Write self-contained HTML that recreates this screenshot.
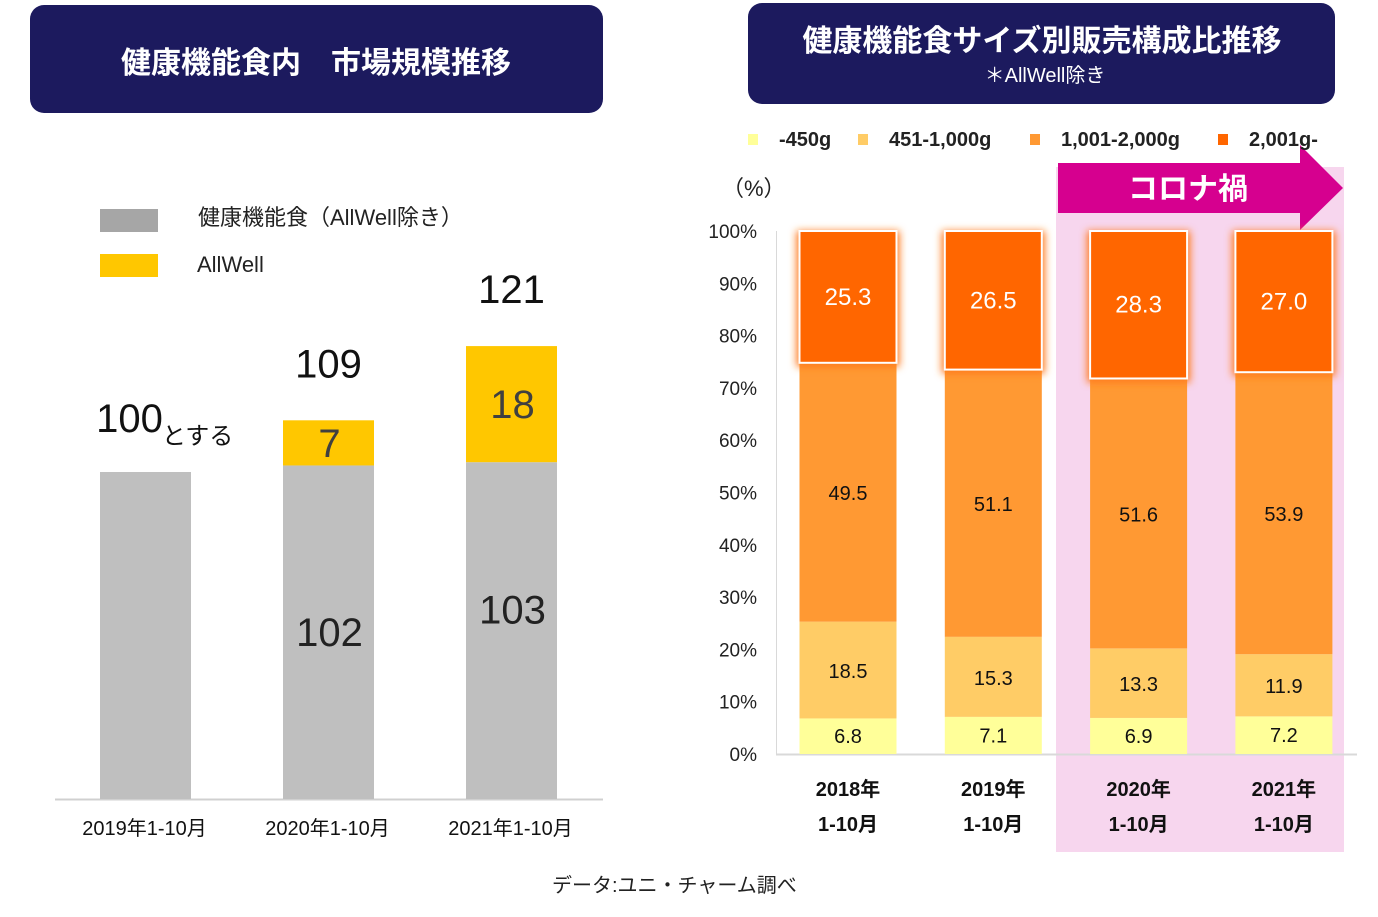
<!DOCTYPE html>
<html><head><meta charset="utf-8">
<style>
body{margin:0;width:1378px;height:912px;background:#fff;overflow:hidden;font-family:"Liberation Sans","Noto Sans CJK JP",sans-serif;}
svg text{font-family:"Liberation Sans","Noto Sans CJK JP",sans-serif;}
</style></head><body>
<svg id="s" width="1378" height="912" xmlns="http://www.w3.org/2000/svg">
<defs><filter id="glow" x="-20%" y="-20%" width="140%" height="140%"><feGaussianBlur stdDeviation="4"/></filter></defs>
<rect x="30" y="5" width="573" height="108" rx="14" fill="#1c1a5e"/>
<text x="316" y="73" text-anchor="middle" fill="#fff" font-size="30" font-weight="bold">健康機能食内　市場規模推移</text>
<rect x="748" y="3" width="587" height="101" rx="14" fill="#1c1a5e"/>
<text x="1042" y="51" text-anchor="middle" fill="#fff" font-size="30" font-weight="bold">健康機能食サイズ別販売構成比推移</text>
<text x="1045" y="82" text-anchor="middle" fill="#fff" font-size="20">＊AllWell除き</text>
<rect x="100" y="209" width="58" height="23" fill="#a6a6a6"/>
<text x="198" y="225" font-size="22" fill="#222">健康機能食（AllWell除き）</text>
<rect x="100" y="254" width="58" height="23" fill="#ffc700"/>
<text x="197" y="272" font-size="22" fill="#222">AllWell</text>
<line x1="55" y1="799.5" x2="603" y2="799.5" stroke="#d0d0d0" stroke-width="2"/>
<rect x="1056" y="167" width="288" height="685" fill="#f7d6ee"/>
<polygon points="1058,163 1300,163 1300,145 1343,188 1300,230 1300,213 1058,213" fill="#d6008f"/>
<text x="1188" y="199" text-anchor="middle" fill="#fff" font-size="30" font-weight="bold">コロナ禍</text>
<text x="722" y="196" font-size="22" fill="#222">（%）</text>
<line x1="776.5" y1="231" x2="776.5" y2="754" stroke="#d9d9d9"/>
<line x1="776" y1="754.5" x2="1357" y2="754.5" stroke="#d9d9d9" stroke-width="2"/>
<text x="552" y="892" font-size="20" fill="#222">データ:ユニ・チャーム調べ</text>
<g id="left"></g><g id="right"></g>
</svg>
<script>
// Left chart data
const leftCats = ["2019年1-10月","2020年1-10月","2021年1-10月"];
const leftBase = [100,102,103];
const leftAllwell = [0,7,18];
const leftTotals = ["100","109","121"];
// Right chart data
const rightCatsYear = ["2018年","2019年","2020年","2021年"];
const rightCatsMonth = ["1-10月","1-10月","1-10月","1-10月"];
const s450 = [6.8,7.1,6.9,7.2];
const s1000 = [18.5,15.3,13.3,11.9];
const s2000 = [49.5,51.1,51.6,53.9];
const s2001 = [25.3,26.5,28.3,27.0];
const yTicks = [0,10,20,30,40,50,60,70,80,90,100];
const seriesNames = ["-450g","451-1,000g","1,001-2,000g","2,001g-"];

const NS="http://www.w3.org/2000/svg";
function mk(parent,tag,attrs,txt){const e=document.createElementNS(NS,tag);for(const k in attrs)e.setAttribute(k,attrs[k]);if(txt!==undefined)e.textContent=txt;parent.appendChild(e);return e;}

const L=document.getElementById('left');
const lx=i=>145.5+i*183, ly=v=>799-v*3.27, lyh=v=>v*6.45;
leftCats.forEach((c,i)=>{
  const b=ly(leftBase[i]);
  const r=mk(L,'rect',{x:lx(i)-45.5,y:b,width:91,height:799-b,fill:'#bfbfbf'});
  
  
  let top=b;
  if(leftAllwell[i]>0){
    const h=lyh(leftAllwell[i]); top=b-h;
    const y=mk(L,'rect',{x:lx(i)-45.5,y:top,width:91,height:h,fill:'#ffc700'});
    
    
    const t=mk(L,'text',{x:lx(i)+1,y:top+h/2+14,'text-anchor':'middle','font-size':40,fill:'#404040'},String(leftAllwell[i]));
    
    
    const t2=mk(L,'text',{x:lx(i)+1,y:b+(799-b)/2-(i==1?-14:0)+ (i==2? -7:0),'text-anchor':'middle','font-size':40,fill:'#222'},String(leftBase[i]));
    
    
  }
  const tt=mk(L,'text',{x:lx(i)+(i==0?-16:0),y:top-43+(i==0?3:0),'text-anchor':'middle','font-size':40,fill:'#111'},leftTotals[i]);
  
  
  if(i==0){const s=mk(L,'text',{x:162,y:444,'font-size':24,fill:'#111'},'とする');}
  const xl=mk(L,'text',{x:lx(i)-1,y:835,'text-anchor':'middle','font-size':20,fill:'#111'},c);
  
  
});

const R=document.getElementById('right');
const rx=i=>848+i*145.3, ry=v=>754-v*5.23;
yTicks.forEach(t=>{
  const e=mk(R,'text',{x:757,y:ry(t)+7,'text-anchor':'end','font-size':19,fill:'#222'},t+'%');
  
  
});
const colors=['#ffff99','#ffcc66','#ff9933','#ff6600'];
const legX=[748,858,1030,1218];
seriesNames.forEach((n,k)=>{
  const sw=mk(R,'rect',{x:legX[k],y:134,width:10,height:11,fill:colors[k]});
  
  
  const lt=mk(R,'text',{x:legX[k]+31,y:146,'font-size':20,'font-weight':'bold',fill:'#222'},n);
  
  
});
const series=[s450,s1000,s2000,s2001];
rightCatsYear.forEach((c,i)=>{
  let cum=0;
  series.forEach((arr,k)=>{
    const v=arr[i]; const y1=ry(cum), y2=ry(Math.min(cum+v,100)); cum+=v;
    const x=rx(i)-48.5, h=y1-y2;
    if(k==3){
      const g=mk(R,'rect',{x:x-3,y:y2,width:103,height:h+4,fill:'#ff7a1a',filter:'url(#glow)'});
      
      
    }
    const r=mk(R,'rect',{x:x,y:y2,width:97,height:h,fill:colors[k]});
    if(k==3){r.setAttribute('stroke','#fff');r.setAttribute('stroke-width','2');}
    
    
    const t=mk(R,'text',{x:rx(i),y:(y1+y2)/2+(k==0?7:8),'text-anchor':'middle','font-size':k==3?24:20,fill:k==3?'#fff':'#111'},v.toFixed(1));
    
    
  });
  const a=mk(R,'text',{x:rx(i),y:796,'text-anchor':'middle','font-size':20,'font-weight':'bold',fill:'#111'},c);
  
  
  const b=mk(R,'text',{x:rx(i),y:831,'text-anchor':'middle','font-size':20,'font-weight':'bold',fill:'#111'},rightCatsMonth[i]);
  
  
});
</script>
</body></html>
